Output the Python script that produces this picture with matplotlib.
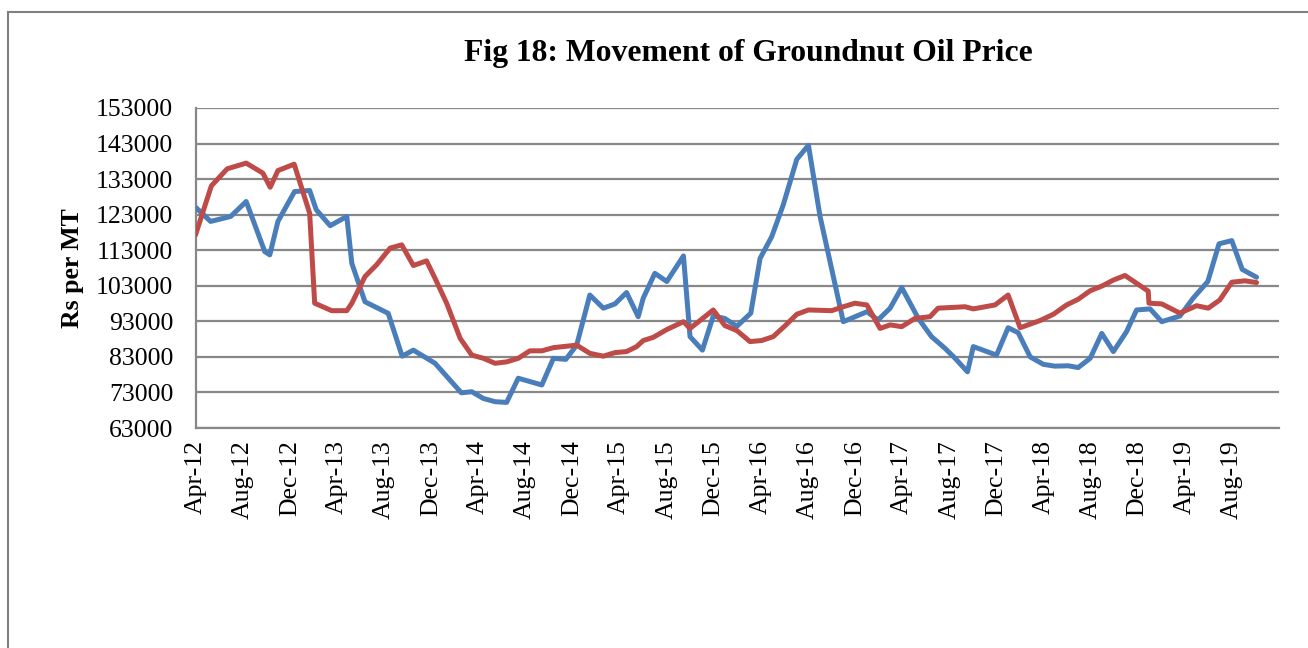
import matplotlib
matplotlib.use("Agg")
import matplotlib.pyplot as plt
import matplotlib.dates as mdates
from matplotlib.lines import Line2D
import pandas as pd

# ---------------- data ----------------
blue_dates = ["2012-04-01", "2012-05-10", "2012-07-01", "2012-08-10", "2012-09-27", "2012-10-10",
              "2012-10-31", "2012-12-13", "2013-01-21", "2013-02-07", "2013-03-15", "2013-04-27",
              "2013-05-10", "2013-06-13", "2013-08-12", "2013-09-17", "2013-10-16", "2013-12-11",
              "2014-02-17", "2014-03-16", "2014-04-15", "2014-05-15", "2014-06-14", "2014-07-14",
              "2014-09-13", "2014-10-13", "2014-11-14", "2014-12-12", "2015-01-15", "2015-02-19",
              "2015-03-21", "2015-04-20", "2015-05-20", "2015-06-02", "2015-07-02", "2015-08-02",
              "2015-09-14", "2015-10-01", "2015-11-02", "2015-11-30", "2015-12-30", "2016-01-30",
              "2016-03-06", "2016-03-30", "2016-04-29", "2016-05-29", "2016-07-03", "2016-08-02",
              "2016-09-01", "2016-10-31", "2016-12-31", "2017-01-29", "2017-03-01", "2017-03-31",
              "2017-05-13", "2017-06-16", "2017-07-21", "2017-08-16", "2017-09-17", "2017-10-02",
              "2017-12-01", "2017-12-31", "2018-01-26", "2018-02-26", "2018-04-01", "2018-05-01",
              "2018-06-04", "2018-06-30", "2018-07-31", "2018-08-30", "2018-09-29", "2018-11-02",
              "2018-11-28", "2019-01-02", "2019-02-01", "2019-03-20", "2019-04-23", "2019-05-31",
              "2019-06-29", "2019-08-01", "2019-08-28", "2019-10-04"]
blue_values = [125100, 121100, 122500, 126700, 112600, 111700,
               121100, 129500, 129800, 124400, 119900, 122500,
               109300, 98500, 95250, 83200, 84900, 81200,
               72900, 73200, 71300, 70400, 70200, 77000,
               75100, 82600, 82300, 86300, 100400, 96700,
               97900, 101100, 94300, 99500, 106500, 104200,
               111400, 88700, 84900, 94500, 93800, 91600,
               95300, 110700, 116800, 125800, 138600, 142500,
               122500, 92900, 95700, 93400, 96700, 102500,
               93800, 88700, 85400, 82600, 78800, 85900,
               83500, 91200, 89800, 83000, 80900, 80400,
               80500, 80000, 82600, 89600, 84500, 90100,
               96200, 96500, 92900, 94500, 99500, 104200,
               114800, 115700, 107600, 105400]

red_dates = ["2012-04-01", "2012-05-12", "2012-06-22", "2012-08-10", "2012-09-22", "2012-10-11",
             "2012-10-31", "2012-12-12", "2013-01-21", "2013-02-03", "2013-03-19", "2013-04-27",
             "2013-05-10", "2013-06-13", "2013-07-13", "2013-08-17", "2013-09-16", "2013-10-16",
             "2013-11-19", "2013-12-11", "2014-01-10", "2014-02-14", "2014-03-16", "2014-04-15",
             "2014-05-15", "2014-06-14", "2014-07-14", "2014-08-13", "2014-09-13", "2014-10-13",
             "2014-12-12", "2015-01-15", "2015-02-19", "2015-03-21", "2015-04-20", "2015-05-16",
             "2015-06-02", "2015-06-28", "2015-08-02", "2015-09-14", "2015-10-01", "2015-11-30",
             "2015-12-30", "2016-01-30", "2016-03-04", "2016-04-03", "2016-05-03", "2016-06-02",
             "2016-07-03", "2016-08-02", "2016-10-01", "2016-10-31", "2016-11-30", "2016-12-31",
             "2017-02-03", "2017-03-01", "2017-03-31", "2017-05-04", "2017-06-12", "2017-07-03",
             "2017-09-11", "2017-10-02", "2017-11-27", "2017-12-31", "2018-01-31", "2018-03-23",
             "2018-04-27", "2018-05-31", "2018-06-30", "2018-07-31", "2018-08-30", "2018-09-29",
             "2018-10-29", "2018-12-28", "2018-12-30", "2019-02-01", "2019-03-20", "2019-05-02",
             "2019-06-01", "2019-07-01", "2019-08-01", "2019-09-04", "2019-10-04"]
red_values = [117300, 131100, 135900, 137500, 134700, 130700,
              135400, 137200, 123400, 98100, 96000, 96000,
              98100, 105600, 108900, 113600, 114500, 108700,
              110000, 105100, 98100, 88200, 83500, 82600,
              81200, 81600, 82600, 84700, 84700, 85600,
              86300, 84000, 83200, 84200, 84500, 85900,
              87600, 88500, 90700, 92900, 91000, 96200,
              91800, 90400, 87300, 87600, 88700, 91700,
              95000, 96200, 96000, 97100, 98100, 97600,
              91000, 92000, 91500, 93800, 94300, 96700,
              97100, 96500, 97600, 100400, 91200, 93200,
              95000, 97600, 99200, 101600, 102900, 104600,
              105900, 101500, 98100, 97900, 95300, 97400,
              96700, 99000, 104000, 104400, 103900]

y_ticks = [63000, 73000, 83000, 93000, 103000, 113000, 123000, 133000, 143000, 153000]
x_start, x_end = "2012-04-01", "2019-12-01"
x_tick_dates = pd.date_range("2012-04-01", "2019-08-01", freq="4MS")

title = "Fig 18: Movement of Groundnut Oil Price"
y_label = "Rs per MT"

# ---------------- figure ----------------
W, H = 1308, 648
fig = plt.figure(figsize=(W / 100, H / 100), dpi=100)
fig.patch.set_facecolor("white")
serif = ["Liberation Serif", "DejaVu Serif"]

ax = fig.add_axes([195.5 / W, 1 - 428 / H, (1279 - 195.5) / W, (428 - 108) / H])

bx = pd.to_datetime(blue_dates)
rx = pd.to_datetime(red_dates)
ax.plot(bx, blue_values, color="#4A7EBB", lw=3.6, solid_joinstyle="round",
        solid_capstyle="round", zorder=3)
ax.plot(rx, red_values, color="#BE4B48", lw=3.6, solid_joinstyle="round",
        solid_capstyle="round", zorder=4)

ax.set_xlim(pd.Timestamp(x_start), pd.Timestamp(x_end))
ax.set_ylim(y_ticks[0], y_ticks[-1])
ax.set_yticks(y_ticks)
ax.set_yticklabels([str(v) for v in y_ticks], fontfamily=serif, fontsize=18.5)
ax.set_xticks(x_tick_dates)
ax.xaxis.set_major_formatter(mdates.DateFormatter("%b-%y"))
for lab in ax.get_xticklabels():
    lab.set_fontfamily(serif)
    lab.set_fontsize(18.5)
    lab.set_rotation(90)
ax.tick_params(axis="y", length=0, pad=16)
ax.tick_params(axis="x", length=0, pad=9)

ax.yaxis.grid(True, color="#888888", lw=1.6, zorder=1)
ax.set_axisbelow(True)
for s in ["top", "right"]:
    ax.spines[s].set_visible(False)
for s in ["left", "bottom"]:
    ax.spines[s].set_color("#888888")
    ax.spines[s].set_linewidth(1.6)

ax.set_ylabel(y_label, fontfamily=serif, fontsize=18.5, fontweight="bold", labelpad=9)

fig.text(748 / W, 1 - 54 / H, title, ha="center", va="center",
         fontfamily=serif, fontsize=22.8, fontweight="bold")

# outer frame (top and left edges visible)
fig.add_artist(Line2D([8 / W, 1.0], [1 - 12 / H, 1 - 12 / H], transform=fig.transFigure,
                      color="#808080", lw=1.5))
fig.add_artist(Line2D([8 / W, 8 / W], [1 - 12 / H, 0.0], transform=fig.transFigure,
                      color="#808080", lw=1.5))

fig.savefig("out.png", dpi=100, facecolor="white")
